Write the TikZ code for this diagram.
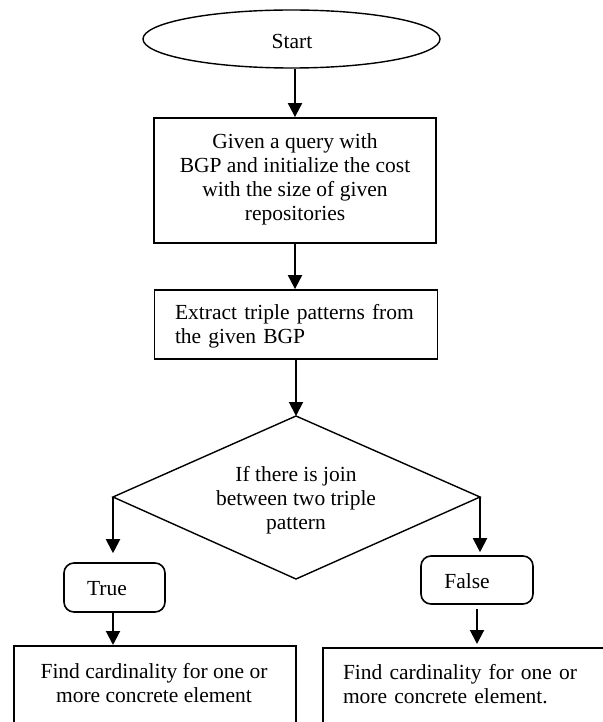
\documentclass[tikz,border=0pt]{standalone}
\usepackage{fontspec}
\setmainfont{Liberation Serif}
\usetikzlibrary{shapes.geometric,arrows.meta}
\begin{document}
\begin{tikzpicture}[x=1pt,y=-1pt,
  arr/.style={-{Triangle[length=14pt,width=14pt]}, line width=2pt},
  box/.style={draw, line width=1.8pt, inner sep=0pt},
  rbox/.style={draw, line width=1.6pt, rounded corners=10pt, inner sep=0pt},
  txt/.style={font=\fontsize{21.5}{24}\selectfont, align=center, inner sep=0pt}]
\useasboundingbox (0,0) rectangle (602,722);
\node[draw, ellipse, line width=1.4pt, minimum width=297pt, minimum height=58pt, inner sep=0pt] (start) at (291.5,39) {};
\node[txt] (startt) at (292,41) {Start};
\node[box, minimum width=282pt, minimum height=125pt] (b1) at (295,180.5) {};
\node[txt] (b1t) at (295,179) {Given a query with\\BGP and initialize the cost\\with the size of given\\repositories};
\node[box, minimum width=283pt, minimum height=69pt] (b2) at (296,324.5) {};
\node[txt, align=left, text width=242pt] (b2t) at (296,326) {\makebox[\linewidth][s]{Extract triple patterns from}\\the given BGP};
\coordinate (dt) at (296,416);
\coordinate (dr) at (480,497);
\coordinate (db) at (296,579);
\coordinate (dl) at (113,497);
\draw[line width=1.4pt, line join=miter] (dt) -- (dr) -- (db) -- (dl) -- cycle;
\node[txt] (dq) at (296,500) {If there is join\\between two triple\\pattern};
\node[rbox, minimum width=101pt, minimum height=49pt] (tr) at (114.5,587.5) {};
\node[txt] (trt) at (107,589) {True};
\node[rbox, minimum width=112pt, minimum height=48pt] (fa) at (477,580) {};
\node[txt] (fat) at (467,581) {False};
\node[box, minimum width=282pt, minimum height=120pt, anchor=north west] (lb) at (13,645) {};
\node[txt] (lbt) at (154,683) {Find cardinality for one or\\more concrete element};
\node[box, minimum width=330pt, minimum height=120pt, anchor=north west] (rb) at (322,647) {};
\node[txt, align=left, text width=240pt] (rbt) at (463,684) {\makebox[\linewidth][s]{Find cardinality for one or}\\more concrete element.};
\draw[arr] (start.south -| b1.north) -- (b1.north);
\draw[arr] (b1.south) -- (b1.south |- b2.north);
\draw[arr] (b2.south -| dt) -- (dt);
\draw[arr, shorten >=9pt] (dl) -- (dl |- tr.north);
\draw[arr] (tr.south -| dl) -- (lb.north -| dl);
\draw[arr, shorten >=3pt] (dr) -- (fa.north -| dr);
\draw[arr, shorten <=4pt, shorten >=3pt] (fa.south) -- (fa.south |- rb.north);
\end{tikzpicture}
\end{document}
